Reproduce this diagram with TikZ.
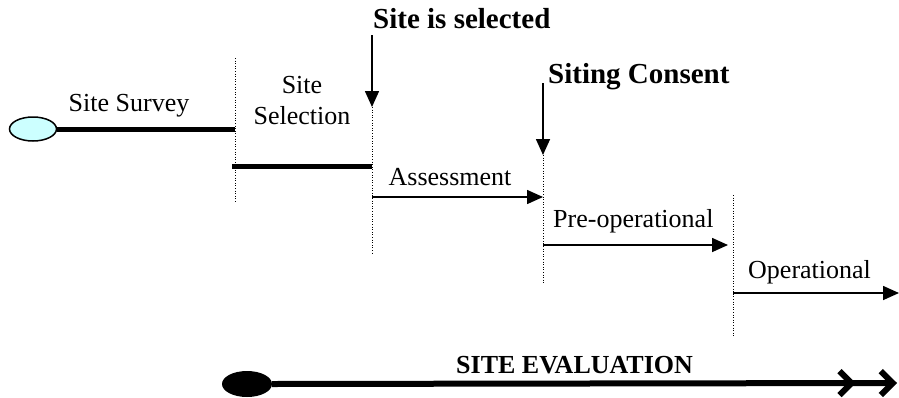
\documentclass[tikz,border=0pt]{standalone}
\usepackage{fontspec}
\setmainfont{Liberation Serif}
\usetikzlibrary{arrows.meta,shapes.geometric}
\begin{document}
\begin{tikzpicture}[x=1pt,y=-1pt,
  lbl/.style={font=\fontsize{26}{31}\selectfont, inner sep=0pt},
  blbl/.style={font=\fontsize{29}{34}\selectfont\bfseries, inner sep=0pt},
  thickbar/.style={line width=5pt},
  divider/.style={line width=1pt, dash pattern=on 1pt off 1.6pt},
  phase/.style={line width=1.6pt, -{Triangle[length=16pt,width=14pt]}},
  marker/.style={line width=1.6pt, -{Triangle[length=16pt,width=14pt]}}]
\useasboundingbox (0,0) rectangle (899,397);

% start ellipse and site survey
\node (start) [ellipse, draw=black, line width=1.5pt, fill={rgb,255:red,204;green,255;blue,255},
  minimum width=47pt, minimum height=24pt, inner sep=0pt] at (33,129) {};
\coordinate (survEnd) at (235,129);
\draw[thickbar] (start.east) -- (survEnd);
\node (survey) [lbl, anchor=base] at (129,111) {Site Survey};

% divider 1
\coordinate (d1t) at (235,58);
\coordinate (d1b) at (235,203);
\draw[divider] (d1t) -- (d1b);

% site selection
\node (selection) [lbl, anchor=base, align=center] at (302,124) {Site\\Selection};
\coordinate (selS) at (232,166);
\coordinate (selE) at (372,166);
\draw[thickbar] (selS) -- (selE);

% divider 2 and marker
\coordinate (d2t) at (372,107);
\coordinate (d2b) at (372,255);
\draw[divider] (d2t) -- (d2b);
\coordinate (m1s) at (372,35);
\draw[marker] (m1s) -- (d2t);
\node (selected) [blbl, anchor=base west] at (373,28) {Site is selected};

% assessment
\coordinate (asS) at (372,197);
\coordinate (asE) at (543,197);
\draw[phase] (asS) -- (asE);
\node (assess) [lbl, anchor=base] at (450,185) {Assessment};

% divider 3 and marker
\coordinate (d3t) at (543,155);
\coordinate (d3b) at (543,283);
\draw[divider] (d3t) -- (d3b);
\coordinate (m2s) at (543,83);
\draw[marker] (m2s) -- (d3t);
\node (consent) [blbl, anchor=base west] at (548,83) {Siting Consent};

% pre-operational
\coordinate (poS) at (543,245);
\coordinate (poE) at (728,245);
\draw[phase] (poS) -- (poE);
\node (preop) [lbl, anchor=base west] at (553,227) {Pre-operational};

% divider 4
\coordinate (d4t) at (733,195);
\coordinate (d4b) at (733,338);
\draw[divider] (d4t) -- (d4b);

% operational
\coordinate (opS) at (733,293);
\coordinate (opE) at (899,293);
\draw[phase] (opS) -- (opE);
\node (oper) [lbl, anchor=base west] at (748,278) {Operational};

% site evaluation
\node (evstart) [ellipse, fill=black, minimum width=50pt, minimum height=26pt, inner sep=0pt] at (247,384) {};
\coordinate (evEnd) at (897,383);
\draw[line width=6pt, -{Straight Barb[length=12pt,width=24pt,sep=22pt]Straight Barb[length=12pt,width=24pt]}] (evstart.east) -- (evEnd);
\node (evlabel) [font=\fontsize{26}{31}\selectfont\bfseries, inner sep=0pt, anchor=base west] at (456,373) {SITE EVALUATION};
\end{tikzpicture}
\end{document}
